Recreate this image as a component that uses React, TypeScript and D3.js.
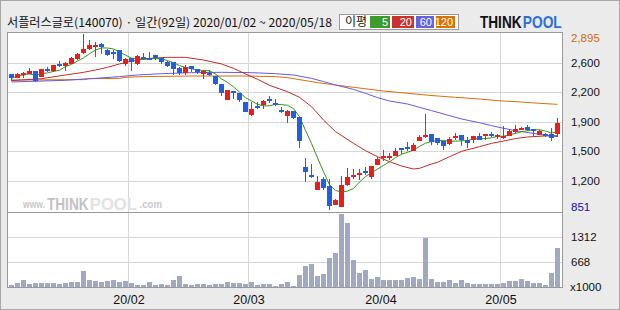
import React from 'react';
import * as d3 from 'd3';

const W = 620;
const H = 310;

const titleText = '서플러스글로(140070) · 일간(92일) 2020/01/02 ~ 2020/05/18';

const opens = [2430,2388,2419,2434,2465,2400,2489,2461,2551,2527,2551,2605,2674,2721,2752,2783,2709,2682,2709,2547,
  2612,2551,2624,2620,2651,2616,2574,2570,2500,2446,2523,2485,2434,2438,2411,2311,2132,2233,2210,2105,
  1954,2063,2070,2144,2098,2012,1947,2001,1931,1354,1258,1087,1211,1130,913,890,1138,1234,1254,1304,
  1238,1378,1459,1467,1478,1571,1587,1540,1656,1711,1730,1683,1649,1621,1687,1718,1664,1664,1707,1711,
  1730,1707,1703,1714,1761,1788,1815,1792,1726,1734,1730,1738];
const highs = [2435,2442,2458,2496,2465,2492,2512,2539,2578,2570,2632,2670,2895,2825,2806,2787,2717,2709,2709,2616,
  2612,2651,2670,2690,2651,2616,2585,2570,2508,2531,2523,2485,2477,2477,2411,2311,2245,2233,2210,2105,
  2105,2109,2129,2175,2140,2051,2012,2001,1931,1455,1381,1246,1238,1211,979,1246,1343,1327,1323,1354,
  1366,1467,1548,1509,1575,1571,1637,1625,1726,1966,1730,1683,1649,1695,1741,1718,1695,1711,1741,1730,
  1757,1734,1827,1780,1834,1815,1834,1792,1780,1749,1800,1920];
const lows = [2353,2380,2380,2427,2342,2396,2450,2458,2508,2469,2543,2597,2663,2709,2632,2663,2636,2609,2574,2527,
  2469,2531,2601,2601,2593,2543,2508,2423,2419,2415,2458,2427,2369,2407,2303,2179,2132,2140,2109,1985,
  1939,2028,2024,2098,2059,1974,1865,1904,1567,1180,1227,1087,1087,851,913,886,1130,1207,1200,1254,
  1207,1374,1424,1428,1478,1498,1536,1532,1652,1683,1610,1606,1552,1610,1660,1598,1571,1633,1660,1668,
  1695,1676,1676,1711,1745,1780,1765,1711,1718,1695,1649,1703];
const closes = [2380,2434,2446,2465,2349,2485,2473,2531,2531,2562,2616,2663,2721,2767,2771,2748,2655,2663,2581,2601,
  2570,2636,2612,2612,2612,2566,2527,2492,2446,2508,2485,2454,2465,2427,2318,2206,2245,2206,2125,1993,
  2024,2040,2121,2125,2086,2001,2005,1923,1656,1296,1238,1176,1110,901,967,1141,1234,1262,1277,1285,
  1358,1447,1478,1482,1536,1544,1567,1602,1699,1722,1641,1625,1598,1676,1711,1664,1633,1707,1668,1730,
  1711,1718,1711,1765,1792,1807,1784,1765,1765,1718,1691,1862];
// volume in thousands
const volumes = [53,106,185,79,106,106,106,106,79,106,132,132,422,185,158,132,167,185,132,158,
  106,53,53,132,53,79,53,185,290,79,53,79,79,53,79,79,132,106,106,79,
  132,53,79,79,18,79,132,18,317,554,607,290,343,766,898,1927,1690,713,370,449,
  211,264,185,185,185,185,238,264,211,1294,211,132,132,185,106,185,106,79,79,79,
  79,79,106,158,158,211,158,106,106,53,370,1030];

// moving averages: [day index, value]
const ma20Pts: [number, number][] = [[0,2353],[5,2376],[9,2419],[12,2450],[14,2477],[16,2508],[18,2547],[20,2581],[23,2612],[26,2624],[29,2624],[32,2593],[35,2547],[37,2496],[39,2431],[41,2369],[43,2299],[46,2225],[48,2160],[50,2051],[52,1896],[54,1761],[57,1625],[59,1540],[61,1470],[63,1412],[65,1362],[67,1327],[68,1335],[70,1385],[71,1405],[73,1470],[75,1532],[78,1587],[80,1625],[82,1652],[84,1680],[86,1699],[89,1711],[91,1714]];
const ma60Pts: [number, number][] = [[0,2338],[9,2357],[12,2372],[14,2380],[18,2400],[21,2419],[25,2434],[30,2446],[35,2450],[40,2446],[44,2434],[47,2419],[50,2380],[52,2342],[54,2303],[57,2252],[59,2206],[61,2156],[63,2117],[66,2082],[68,2043],[70,2005],[73,1947],[75,1908],[78,1865],[80,1831],[82,1800],[84,1772],[87,1741],[89,1718],[91,1703]];
const ma120Pts: [number, number][] = [[0,2361],[12,2365],[13,2376],[18,2380],[19,2392],[22,2400],[30,2407],[39,2407],[44,2400],[46,2388],[51,2330],[57,2276],[62,2233],[69,2187],[71,2175],[74,2160],[78,2140],[81,2121],[85,2105],[88,2090],[91,2078]];

const priceGridValues = [2555, 2218, 1876, 1536, 1191];
const priceGridLabels = ['2,600', '2,200', '1,900', '1,500', '1,200'];
const priceMax = 2895;
const priceMin = 851;
const volGridValues = [1312, 668];
const monthStartIdx = [20, 40, 62, 82];
const monthLabels = ['20/02', '20/03', '20/04', '20/05'];
const legendLabels = ['5', '20', '60', '120'];

const UP = '#e81e1e';
const DOWN = '#1f5fe0';
const C5 = '#3a8f1e';
const C20 = '#bb2f28';
const C60 = '#6a5ad8';
const C120 = '#d4700e';
const legendColors = ['#3d9a2b', '#c8322d', '#6562dc', '#d8720c'];
const NUM_FONT = '"Liberation Sans", Arial, sans-serif';
const KR_FONT = '"Noto Sans CJK KR", "Noto Sans", sans-serif';

export default function App() {
  const n = opens.length;
  const x = d3.scaleBand<number>().domain(d3.range(n)).range([8, 560]);
  const cx = (i: number) => Math.floor((x(i) as number) + x.bandwidth() / 2) + 0.5;
  const py = d3.scaleLinear().domain([priceMin, priceMax]).range([210, 34]);
  const vy = d3.scaleLinear().domain([0, 1980]).range([287, 212]);

  const ma5: [number, number][] = closes.map((_, i) => [i, d3.mean(closes.slice(Math.max(0, i - 4), i + 1)) as number]);
  const line = d3.line<[number, number]>().x(d => cx(d[0])).y(d => py(d[1]));

  const plotL = 7.5, plotR = 562.5, priceTop = 32.5, priceBot = 212.5, volBot = 287.5;

  return (
    <svg width={W} height={H} style={{ position: 'absolute', left: 0, top: 0, display: 'block' }}>
      <rect x={0.5} y={0.5} width={W - 1} height={H - 1} fill="#ebebeb" stroke="#a8a8a8" />
      {/* title */}
      <text x={7} y={27} fontFamily={KR_FONT} fontSize={12} fill="#111" textLength={325} lengthAdjust="spacingAndGlyphs">{titleText}</text>
      {/* legend */}
      <rect x={339.5} y={14.5} width={119} height={15} fill="#fff" stroke="#9a9a9a" />
      <text x={345} y={26} fontFamily={KR_FONT} fontSize={12} fill="#111">이평</text>
      {legendLabels.map((lab, k) => {
        const xs = [370, 392, 416, 436][k];
        const ws = [20, 22, 18, 19][k];
        return (
          <g key={lab}>
            <rect x={xs} y={16} width={ws} height={12} fill={legendColors[k]} />
            <text x={xs + ws - 2} y={26} textAnchor="end" fontFamily={NUM_FONT} fontSize={11} fill="#fff">{lab}</text>
          </g>
        );
      })}
      {/* logo */}
      <text transform="translate(480,28) scale(0.85,1)" fontFamily={NUM_FONT} fontWeight="bold" fontSize={16} fill="#111">THINK</text>
      <text transform="translate(522.8,28) scale(0.86,1)" fontFamily={NUM_FONT} fontWeight="bold" fontSize={16} fill="#2d6fd8">POOL</text>

      {/* plot background */}
      <rect x={plotL} y={priceTop} width={plotR - plotL} height={volBot - priceTop} fill="#fff" />

      {/* grid */}
      {priceGridValues.map(v => (
        <line key={v} x1={plotL} x2={plotR} y1={Math.round(py(v)) + 0.5} y2={Math.round(py(v)) + 0.5} stroke="#d6d6d6" />
      ))}
      {volGridValues.map(v => (
        <line key={v} x1={plotL} x2={plotR} y1={Math.round(vy(v)) + 0.5} y2={Math.round(vy(v)) + 0.5} stroke="#d6d6d6" />
      ))}
      {monthStartIdx.map(i => (
        <line key={i} x1={(x(i) as number) + 0.5} x2={(x(i) as number) + 0.5} y1={priceTop} y2={volBot} stroke="#d6d6d6" />
      ))}

      {/* watermark */}
      <text transform="translate(23,208) scale(0.78,1)" fontFamily={NUM_FONT} fontWeight="bold" fontSize={11} fill="#c9c9c9">www.</text>
      <text transform="translate(47,209.5) scale(0.8,1)" fontFamily={NUM_FONT} fontWeight="bold" fontSize={17} fill="#c2c2c2">THINK</text>
      <text transform="translate(89.8,209.5) scale(0.98,1)" fontFamily={NUM_FONT} fontWeight="bold" fontSize={17} fill="#e2e2e2">POOL</text>
      <text transform="translate(139.5,208) scale(0.88,1)" fontFamily={NUM_FONT} fontWeight="bold" fontSize={11} fill="#c9c9c9">.com</text>

      {/* moving averages */}
      <path d={line(ma120Pts) as string} fill="none" stroke={C120} strokeWidth={1} />
      <path d={line(ma60Pts) as string} fill="none" stroke={C60} strokeWidth={1} />
      <path d={line(ma20Pts) as string} fill="none" stroke={C20} strokeWidth={1} />
      <path d={line(ma5) as string} fill="none" stroke={C5} strokeWidth={1} />

      {/* candles */}
      {opens.map((o, i) => {
        const c = closes[i];
        const up = c >= o;
        const col = up ? UP : DOWN;
        const xc = cx(i);
        const yTop = Math.round(py(Math.max(o, c)));
        const yBot = Math.round(py(Math.min(o, c)));
        return (
          <g key={i}>
            <line x1={xc} x2={xc} y1={Math.round(py(highs[i]))} y2={Math.round(py(lows[i]))} stroke={col} />
            <rect x={xc - 2.5} y={yTop} width={5} height={Math.max(2, yBot - yTop)} fill={col} />
          </g>
        );
      })}

      {/* volume */}
      {volumes.map((v, i) => {
        const y = Math.round(vy(v));
        return <rect key={i} x={cx(i) - 2.5} y={y} width={5} height={Math.max(1, 287 - y)} fill="#a0a9c0" />;
      })}

      {/* panel borders */}
      <rect x={plotL} y={priceTop} width={plotR - plotL} height={priceBot - priceTop} fill="none" stroke="#999" />
      <rect x={plotL} y={priceBot} width={plotR - plotL} height={volBot - priceBot} fill="none" stroke="#999" />

      {/* right axis labels */}
      <text x={571} y={42} fontFamily={NUM_FONT} fontSize={11.5} fill="#cc6a10">2,895</text>
      {priceGridValues.map((v, k) => (
        <text key={v} x={571} y={py(v) + 4} fontFamily={NUM_FONT} fontSize={11.5} fill="#111">{priceGridLabels[k]}</text>
      ))}
      <text x={571} y={211} fontFamily={NUM_FONT} fontSize={11.5} fill="#1010c0">851</text>
      {volGridValues.map(v => (
        <text key={v} x={571} y={vy(v) + 4} fontFamily={NUM_FONT} fontSize={11.5} fill="#111">{v}</text>
      ))}
      <text x={570} y={291} fontFamily={NUM_FONT} fontSize={11.5} fill="#111">x1000</text>

      {/* month labels */}
      {monthStartIdx.map((i, k) => (
        <text key={i} x={(x(i) as number) + 1} y={304} textAnchor="middle" fontFamily={NUM_FONT} fontSize={12.5} fill="#111">{monthLabels[k]}</text>
      ))}
    </svg>
  );
}
